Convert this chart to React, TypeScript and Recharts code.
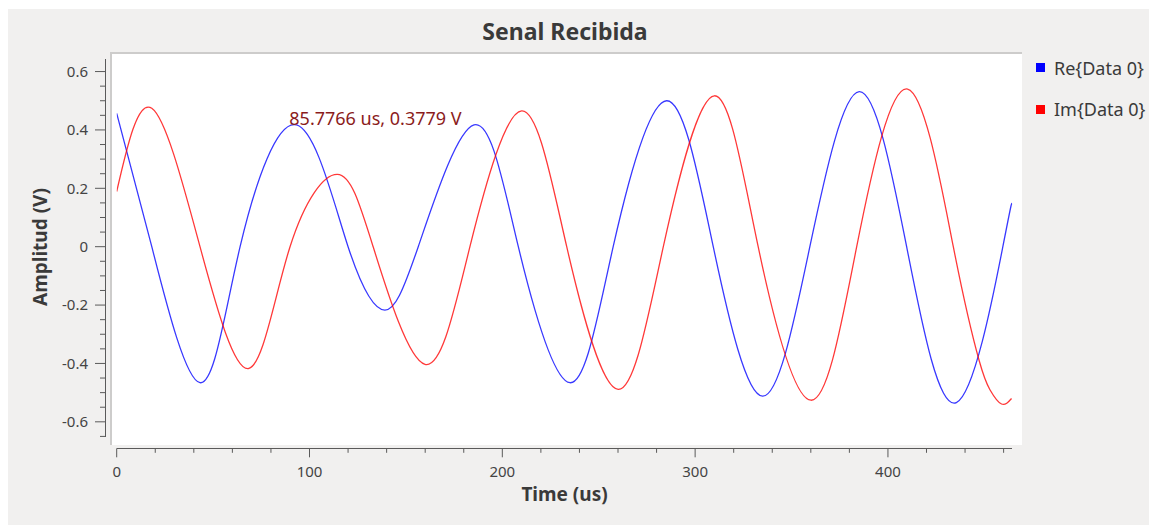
import { LineChart, Line, XAxis, YAxis } from "recharts";

// Re{Data 0}: extremes and zero crossings
const reTime = [0, 18.2, 43.2, 64, 93.3, 120, 139.1, 156.4, 185.3, 208.3, 235.1, 257.5, 285.2, 309.4, 335.0, 359.5, 385.1, 409.7, 435.5, 459.6, 464.1];
const reVolts = [0.457, 0, -0.466, 0, 0.417, 0, -0.217, 0, 0.417, 0, -0.466, 0, 0.5, 0, -0.512, 0, 0.531, 0, -0.534, 0, 0.143];

// Im{Data 0}: same, with a few extra readings on the last trough
const imTime = [0, 18.2, 43.2, 68.6, 89.9, 114.4, 133, 159.9, 183.2, 210.0, 233.4, 260.1, 283.5, 310.0, 332.7, 360.1, 383.8, 410.2, 433.9, 447.3, 452.9, 458.9, 464.1];
const imVolts = [0.189, 0.474, 0, -0.417, 0, 0.248, 0, -0.403, 0, 0.465, 0, -0.489, 0, 0.517, 0, -0.526, 0, 0.54, 0, -0.39, -0.49, -0.539, -0.52];

const xTicks = [0, 20, 40, 60, 80, 100, 120, 140, 160, 180, 200, 220, 240, 260, 280, 300, 320, 340, 360, 380, 400, 420, 440, 460];
const xMajor = [0, 100, 200, 300, 400];
const yTicks = [-0.65, -0.6, -0.55, -0.5, -0.45, -0.4, -0.35, -0.3, -0.25, -0.2, -0.15, -0.1, -0.05, 0, 0.05, 0.1, 0.15, 0.2, 0.25, 0.3, 0.35, 0.4, 0.45, 0.5, 0.55, 0.6];
const yMajor = [-0.6, -0.4, -0.2, 0, 0.2, 0.4, 0.6];

const seriesNames = ["Re{Data 0}", "Im{Data 0}"];
const seriesColors = ["#0000ff", "#ff0000"];
const markerText = "85.7766 us, 0.3779 V";

const reData = reTime.map((t, i) => ({ t, v: reVolts[i] }));
const imData = imTime.map((t, i) => ({ t, v: imVolts[i] }));

const W = 1151;
const H = 516;
const FONT = "'Noto Sans', sans-serif";
const AXIS_COL = "#5a5a5a";
const TEXT_COL = "#444";

const isMajor = (list: number[], v: number) => list.some(m => Math.abs(m - v) < 1e-6);

const YTick = ({ x = 0, y = 0, payload }: any) => {
  const v = payload?.value ?? 0;
  const major = isMajor(yMajor, v);
  const ax = x - 11.7;
  return (
    <g>
      <line x1={ax - (major ? 10 : 5)} x2={ax} y1={y} y2={y} stroke={AXIS_COL} strokeWidth={1} />
      {major && (
        <text x={ax - 17} y={y} dy="0.36em" textAnchor="end" fill={TEXT_COL} fontSize={15} fontFamily={FONT}>
          {String(v)}
        </text>
      )}
    </g>
  );
};

const XTick = ({ x = 0, y = 0, payload }: any) => {
  const v = payload?.value ?? 0;
  const major = isMajor(xMajor, v);
  const ay = y + 11.3;
  return (
    <g>
      <line x1={x} x2={x} y1={ay} y2={ay + (major ? 9 : 4.5)} stroke={AXIS_COL} strokeWidth={1} />
      {major && (
        <text x={x} y={y + 34.7} dy="0.36em" textAnchor="middle" fill={TEXT_COL} fontSize={15} fontFamily={FONT}>
          {String(v)}
        </text>
      )}
    </g>
  );
};

export default function App() {
  return (
    <div style={{ position: "relative", width: W, height: H, marginLeft: -2, marginTop: 1, background: "#f1f0ef", fontFamily: FONT, overflow: "hidden" }}>
      {/* plot canvas */}
      <div style={{ position: "absolute", left: 104, top: 43, width: 912, height: 393, background: "#fff", borderTop: "2px solid #cdcccb", borderLeft: "2px solid #cdcccb", boxSizing: "border-box" }} />
      {/* axis backbones */}
      <div style={{ position: "absolute", left: 98.5, top: 50, width: 1, height: 378, background: AXIS_COL }} />
      <div style={{ position: "absolute", left: 110.7, top: 438.8, width: 895.6, height: 1, background: AXIS_COL }} />

      <div style={{ position: "absolute", left: 0, top: 0 }}>
        <LineChart width={W} height={H} margin={{ top: 50, right: 144.7, bottom: 8, left: 10.7 }}>
          <XAxis
            type="number" dataKey="t" domain={[0, 464.5]} ticks={xTicks} interval={0}
            tick={<XTick />} axisLine={false} tickLine={false} tickSize={0} tickMargin={0}
            height={80} allowDataOverflow
          />
          <YAxis
            type="number" domain={[-0.652, 0.643]} ticks={yTicks} interval={0}
            tick={<YTick />} axisLine={false} tickLine={false} tickSize={0} tickMargin={0}
            width={100} allowDataOverflow
          />
          <Line data={reData} dataKey="v" type="natural" stroke={seriesColors[0]} strokeOpacity={0.78} strokeWidth={1.3} dot={false} isAnimationActive={false} />
          <Line data={imData} dataKey="v" type="natural" stroke={seriesColors[1]} strokeOpacity={0.78} strokeWidth={1.3} dot={false} isAnimationActive={false} />
        </LineChart>
      </div>

      {/* title and axis titles */}
      <div style={{ position: "absolute", left: 559, top: 21.5, transform: "translate(-50%,-50%)", fontSize: 23, fontWeight: 700, color: "#3a3a3a", whiteSpace: "nowrap" }}>
        Senal Recibida
      </div>
      <div style={{ position: "absolute", left: 34, top: 237.7, transform: "translate(-50%,-50%) rotate(-90deg)", fontSize: 19, fontWeight: 700, color: "#3a3a3a", whiteSpace: "nowrap" }}>
        Amplitud (V)
      </div>
      <div style={{ position: "absolute", left: 558.5, top: 485, transform: "translate(-50%,-50%)", fontSize: 19, fontWeight: 700, color: "#3a3a3a", whiteSpace: "nowrap" }}>
        Time (us)
      </div>

      {/* picker readout */}
      <div style={{ position: "absolute", left: 283.3, top: 109, transform: "translateY(-50%)", fontSize: 18, color: "#8b1c1c", whiteSpace: "nowrap" }}>
        {markerText}
      </div>

      {/* legend */}
      {seriesNames.map((name, i) => (
        <div key={name} style={{ position: "absolute", left: 1030, top: 58.7 + i * 41.6, transform: "translateY(-50%)", display: "flex", alignItems: "center", fontSize: 18, color: "#3a3a3a", whiteSpace: "nowrap" }}>
          <span style={{ display: "inline-block", width: 9, height: 9, background: seriesColors[i], marginRight: 9 }} />
          {name}
        </div>
      ))}
    </div>
  );
}
